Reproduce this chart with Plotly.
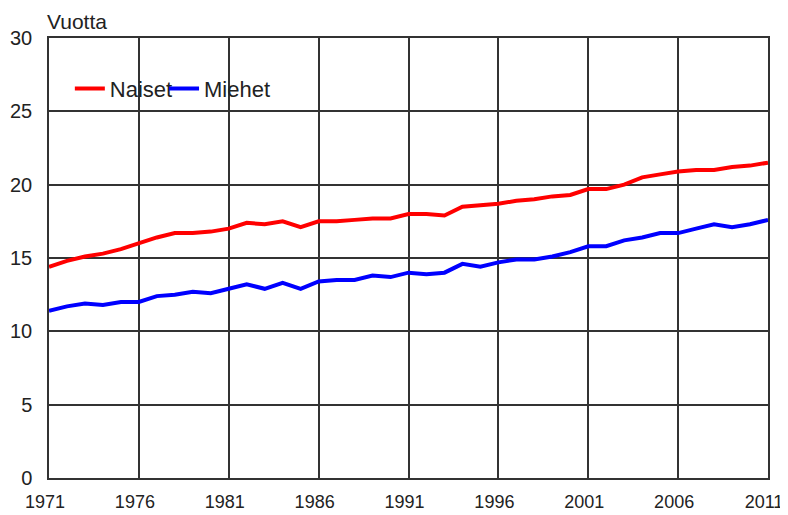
import plotly.graph_objects as go

years = list(range(1971, 2012))
naiset = [14.4, 14.8, 15.1, 15.3, 15.6, 16.0, 16.4, 16.7, 16.7, 16.8,
          17.0, 17.4, 17.3, 17.5, 17.1, 17.5, 17.5, 17.6, 17.7, 17.7,
          18.0, 18.0, 17.9, 18.5, 18.6, 18.7, 18.9, 19.0, 19.2, 19.3,
          19.7, 19.7, 20.0, 20.5, 20.7, 20.9, 21.0, 21.0, 21.2, 21.3, 21.5]
miehet = [11.4, 11.7, 11.9, 11.8, 12.0, 12.0, 12.4, 12.5, 12.7, 12.6,
          12.9, 13.2, 12.9, 13.3, 12.9, 13.4, 13.5, 13.5, 13.8, 13.7,
          14.0, 13.9, 14.0, 14.6, 14.4, 14.7, 14.9, 14.9, 15.1, 15.4,
          15.8, 15.8, 16.2, 16.4, 16.7, 16.7, 17.0, 17.3, 17.1, 17.3, 17.6]
x_ticks = [1971, 1976, 1981, 1986, 1991, 1996, 2001, 2006, 2011]
y_ticks = [0, 5, 10, 15, 20, 25, 30]

FAM = "Liberation Sans, Arial, sans-serif"
TXT = "#222"

fig = go.Figure()
fig.add_trace(go.Scatter(x=years, y=naiset, mode="lines", name="Naiset",
                         line=dict(color="#ff0000", width=4), legend="legend"))
fig.add_trace(go.Scatter(x=years, y=miehet, mode="lines", name="Miehet",
                         line=dict(color="#0000ff", width=4), legend="legend2"))

leg_common = dict(yanchor="middle", xanchor="left", orientation="h",
                  bgcolor="rgba(0,0,0,0)", itemwidth=30,
                  font=dict(family=FAM, size=22, color=TXT))

# the page body adds an 8px offset, so the figure is sized to fit the window
fig.update_layout(
    width=780, height=507,
    margin=dict(l=41, r=20, t=30, b=37, autoexpand=False),
    paper_bgcolor="white", plot_bgcolor="white",
    font=dict(family=FAM, size=20, color=TXT),
    showlegend=True,
    legend=dict(x=0.029, y=0.885, **leg_common),
    legend2=dict(x=0.160, y=0.885, **leg_common),
    xaxis=dict(range=[1971, 2011], tickvals=x_ticks, ticktext=[str(v) for v in x_ticks],
               showgrid=True, gridcolor="#333", gridwidth=1.5,
               showline=True, linecolor="#333", linewidth=1.5, mirror=True,
               zeroline=False, ticks="", ticklabelstandoff=7, automargin=False,
               ticklabeloverflow="allow", ticklabelshift=-4,
               tickfont=dict(family=FAM, size=18, color=TXT)),
    yaxis=dict(range=[0, 30], tickvals=y_ticks,
               showgrid=True, gridcolor="#333", gridwidth=1.5,
               showline=True, linecolor="#333", linewidth=1.5, mirror=True,
               zeroline=False, ticks="", ticklabelstandoff=11, automargin=False,
               ticklabeloverflow="allow",
               tickfont=dict(family=FAM, size=20, color=TXT)),
    annotations=[dict(text="Vuotta", xref="paper", yref="paper", x=0, y=1,
                      xanchor="left", yanchor="bottom", yshift=3, xshift=-4,
                      showarrow=False,
                      font=dict(family=FAM, size=21, color=TXT))],
)

fig.write_html("out.html")
